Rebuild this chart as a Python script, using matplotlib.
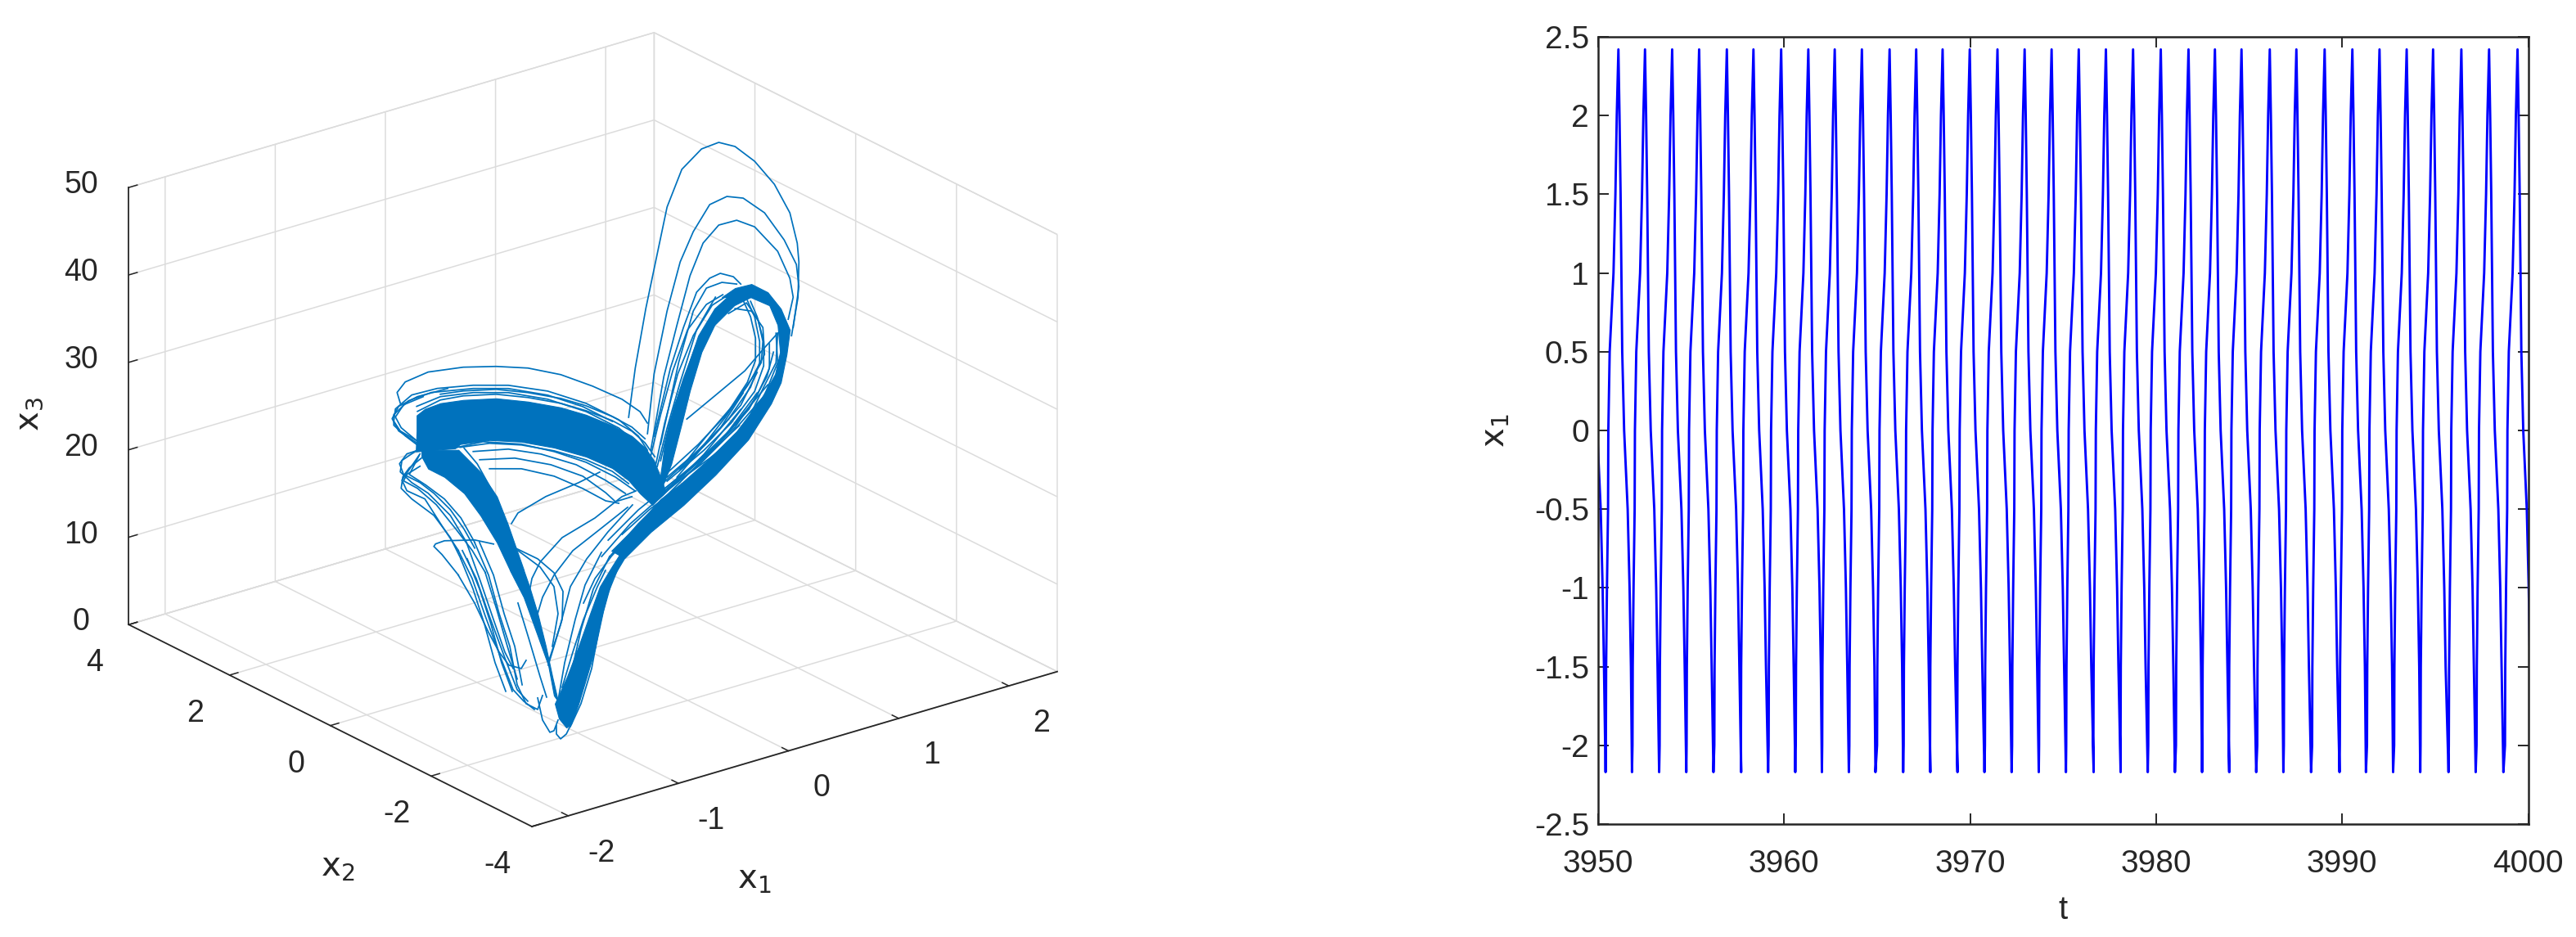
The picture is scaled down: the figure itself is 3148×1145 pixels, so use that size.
import matplotlib
matplotlib.use('Agg')
import matplotlib.pyplot as plt
from matplotlib.ticker import FormatStrFormatter
from mpl_toolkits.mplot3d import proj3d
from mpl_toolkits.mplot3d.art3d import Poly3DCollection

plt.rcParams['font.family'] = ['Liberation Sans Narrow', 'Liberation Sans', 'DejaVu Sans']
plt.rcParams['mathtext.fontset'] = 'custom'
plt.rcParams['mathtext.rm'] = 'Liberation Sans Narrow'
plt.rcParams['mathtext.it'] = 'Liberation Sans Narrow'
plt.rcParams['axes.unicode_minus'] = False

W, H = 3148, 1145
dark = '#262626'
grid_col = '#dcdcdc'
orbit_col = '#0072bd'

# x2 read as one level per group of curves
x2_mid = 0.0
x2_low = -2.2
x2_top = 1.0

# solid ribbons of the attractor, outline
arch_x1 = [-1.554, -1.546, -1.546, -1.472, -1.331, -1.123, -0.825, -0.536, -0.238, -0.008, 0.230, 0.408, 0.527, 0.609, 0.668, 0.713, 0.594, 0.482, 0.378, 0.230, -0.008, -0.298, -0.595, -0.885, -1.152, -1.197]
arch_x3 = [28.47, 30.79, 32.57, 33.03, 33.16, 32.76, 31.84, 30.39, 28.62, 26.92, 24.81, 22.94, 21.17, 19.38, 17.28, 15.52, 14.37, 16.10, 17.99, 19.94, 22.14, 24.25, 26.02, 27.29, 27.82, 27.51]
leg_up_x1 = [-1.502, -1.502, -1.442, -1.294, -1.115, -0.967, -0.818, -0.699, -0.573, -0.625, -0.721, -0.818, -0.967, -1.167]
leg_up_x3 = [28.46, 27.71, 26.09, 24.59, 22.06, 18.97, 15.33, 11.71, 11.24, 13.30, 17.13, 20.58, 23.94, 27.21]
leg_low_x1 = [-1.707, -1.581, -1.454, -1.358, -1.306, -1.269, -1.321, -1.380, -1.454, -1.529, -1.581]
leg_low_x3 = [21.81, 18.25, 13.37, 9.64, 5.98, 5.19, 8.20, 11.88, 15.90, 19.27, 21.34]
rise_x1 = [-1.261, -1.194, -1.150, -1.083, -1.009, -0.934, -0.860, -0.778, -0.667, -0.689, -0.801, -0.890, -0.986, -1.083, -1.187, -1.298]
rise_x3 = [3.19, 1.91, 2.13, 4.22, 7.03, 9.93, 13.97, 17.40, 19.33, 20.26, 18.43, 16.89, 13.88, 10.77, 7.70, 5.02]
lobe_x1 = [0.341, 0.579, 0.876, 1.166, 1.463, 1.671, 1.760, 1.812, 1.842, 1.760, 1.641, 1.493, 1.344, 1.225, 1.485, 1.656, 1.731, 1.753, 1.708, 1.582, 1.359, 1.114, 0.861, 0.668, 0.490, 0.222]
lobe_x3 = [9.23, 11.34, 13.32, 15.70, 18.62, 21.97, 24.06, 27.06, 29.76, 32.49, 34.81, 36.30, 36.39, 35.80, 34.83, 33.26, 30.74, 27.56, 25.20, 22.86, 19.95, 17.78, 15.91, 14.76, 12.89, 10.52]
climb_x1 = [0.668, 0.705, 0.787, 0.891, 1.010, 1.158, 1.337, 1.485, 1.337, 1.158, 1.040, 0.935, 0.861, 0.765, 0.638]
climb_x3 = [17.56, 20.89, 24.89, 28.25, 32.20, 34.74, 36.13, 34.83, 34.45, 32.87, 30.22, 26.21, 22.74, 18.42, 14.87]

# single laps, upper lobe
t1_x1 = [0.836, 0.896, 0.992, 1.096, 1.185, 1.319, 1.498, 1.654, 1.802, 1.980, 2.159, 2.300, 2.367, 2.382, 2.374, 2.315]
t1_x3 = [20.61, 26.01, 32.48, 38.36, 43.37, 47.18, 48.85, 49.02, 48.00, 45.65, 42.36, 38.56, 34.84, 32.63, 28.63, 24.45]
t2_x1 = [1.007, 1.067, 1.185, 1.304, 1.423, 1.572, 1.728, 1.876, 2.070, 2.248, 2.359, 2.382, 2.330]
t2_x3 = [18.10, 24.71, 31.48, 36.65, 39.67, 42.21, 42.56, 41.82, 39.42, 35.66, 32.44, 29.82, 25.34]
t3_x1 = [1.037, 1.156, 1.275, 1.393, 1.512, 1.654, 1.817, 1.980, 2.189, 2.300, 2.330, 2.285]
t3_x3 = [16.11, 24.10, 29.55, 34.73, 38.03, 39.56, 39.51, 38.15, 34.58, 31.07, 28.80, 26.44]
t4_x1 = [1.067, 1.215, 1.334, 1.453, 1.572, 1.668, 1.787, 1.854]
t4_x3 = [17.60, 24.82, 29.05, 32.63, 33.79, 33.99, 33.16, 32.07]
t5_x1 = [1.126, 1.290, 1.423, 1.542, 1.683, 1.817]
t5_x3 = [16.44, 25.19, 30.59, 32.77, 32.90, 32.21]
t6_x1 = [1.364, 1.624, 1.891, 2.055, 2.189]
t6_x3 = [18.45, 20.20, 22.01, 23.83, 25.21]
t7_x1 = [1.743, 1.906, 2.010, 2.055, 2.040, 1.921, 1.713, 1.483, 1.275]
t7_x3 = [29.12, 29.73, 27.46, 24.77, 22.39, 20.30, 17.34, 14.45, 12.13]
t8_x1 = [1.802, 1.951, 2.055, 2.070, 1.951, 1.772, 1.542, 1.304]
t8_x3 = [29.46, 28.62, 26.36, 23.22, 20.85, 18.34, 15.83, 12.96]
t9_x1 = [1.624, 1.453, 1.304, 1.185, 1.096]
t9_x3 = [31.43, 28.33, 22.88, 18.09, 14.02]
t10_x1 = [2.174, 2.189, 2.070, 1.832, 1.483, 1.156]
t10_x3 = [25.26, 21.84, 18.54, 15.96, 12.86, 10.71]
t11_x1 = [2.099, 1.743, 1.393, 1.074]
t11_x3 = [19.64, 15.64, 12.63, 10.36]
t12_x1 = [2.003, 1.668, 1.297, 0.925, 0.665]
t12_x3 = [19.07, 14.70, 11.40, 8.11, 5.33]
t13_x1 = [1.854, 1.520, 1.148, 0.851, 0.591]
t13_x3 = [17.74, 13.84, 10.54, 8.38, 5.60]
s1_x1 = [1.185, 1.468, 1.720, 1.914, 1.988, 1.988, 1.943, 1.876]
s1_x3 = [12.94, 15.16, 17.59, 20.61, 22.86, 25.39, 28.00, 30.12]
s2_x1 = [1.185, 1.498, 1.743, 1.943, 2.025, 2.025, 1.980, 1.914]
s2_x3 = [12.47, 14.67, 17.04, 19.94, 22.44, 24.88, 27.86, 29.98]
s3_x1 = [1.185, 1.520, 1.765, 1.980, 2.062, 2.062, 2.003, 1.943]
s3_x3 = [12.01, 14.31, 16.48, 19.33, 21.94, 24.75, 27.78, 29.77]
s4_x1 = [1.163, 1.542, 1.802, 2.003, 2.114, 2.114]
s4_x3 = [11.24, 13.77, 15.89, 18.79, 21.46, 24.27]
s5_x1 = [1.133, 1.572, 1.869, 2.062, 2.174, 2.189]
s5_x3 = [10.79, 13.19, 15.17, 19.50, 21.89, 25.21]
s6_x1 = [1.126, 1.371, 1.668, 1.876]
s6_x3 = [11.76, 13.65, 16.29, 19.54]
s7_x1 = [0.777, 1.022, 1.371, 1.668, 1.914, 2.114]
s7_x3 = [7.44, 9.34, 11.40, 13.76, 15.93, 18.65]
s8_x1 = [0.650, 0.925, 1.200, 1.542, 1.839]
s8_x3 = [7.25, 9.70, 11.48, 13.58, 15.93]
s9_x1 = [1.297, 1.594, 1.854, 2.003]
s9_x3 = [12.80, 15.44, 18.21, 21.41]
s10_x1 = [1.260, 1.631, 1.928, 2.092, 2.151]
s10_x3 = [11.54, 14.36, 17.47, 20.61, 23.19]
u1_x1 = [1.074, 1.163, 1.282, 1.423, 1.594, 1.743]
u1_x3 = [13.82, 18.73, 23.91, 27.78, 30.61, 31.27]
u2_x1 = [1.037, 1.126, 1.237, 1.371, 1.542, 1.691]
u2_x3 = [15.46, 19.81, 24.45, 28.63, 30.90, 31.46]
u3_x1 = [1.126, 1.208, 1.334, 1.446, 1.616, 1.795]
u3_x3 = [14.57, 18.56, 23.15, 26.48, 29.59, 30.42]

# single laps, around the arch
a1_x1 = [-1.695, -1.724, -1.650, -1.442, -1.123, -0.825, -0.536, -0.238, 0.051, 0.319, 0.482, 0.549]
a1_x3 = [34.52, 35.85, 36.78, 37.14, 36.51, 35.49, 34.23, 32.37, 29.98, 27.48, 25.46, 23.90]
a2_x1 = [-1.531, -1.695, -1.754, -1.739, -1.591, -1.360, -1.033, -0.714, -0.357, -0.008, 0.289, 0.467, 0.549]
a2_x3 = [29.51, 31.34, 32.68, 34.03, 35.07, 34.96, 34.11, 32.92, 30.93, 28.23, 25.25, 22.72, 20.81]
a3_x1 = [-1.531, -1.650, -1.754, -1.754, -1.620, -1.412, -1.033, -0.714, -0.357, -0.038, 0.230]
a3_x3 = [29.04, 30.61, 32.21, 33.43, 34.52, 34.69, 33.74, 32.55, 30.47, 27.97, 25.28]
a4_x1 = [-1.546, -1.331, -1.033, -0.714, -0.357, -0.008, 0.289, 0.467]
a4_x3 = [33.60, 33.91, 33.27, 32.08, 30.00, 27.29, 24.31, 21.78]
a5_x1 = [-1.539, -1.331, -1.123, -0.825, -0.536, -0.238, -0.008, 0.230, 0.408, 0.527, 0.616]
a5_x3 = [33.00, 33.53, 33.23, 32.31, 30.86, 29.09, 27.39, 25.37, 23.50, 21.73, 19.81]
a6_x1 = [-1.331, -1.123, -0.825, -0.536, -0.238, -0.008, 0.230, 0.408, 0.527]
a6_x3 = [34.19, 33.79, 32.87, 31.42, 29.65, 27.95, 25.84, 23.97, 22.20]
a7_x1 = [0.378, 0.230, -0.008, -0.298, -0.595, -0.885, -1.152]
a7_x3 = [17.62, 19.57, 21.77, 23.88, 25.65, 26.92, 27.45]
b1_x1 = [-1.182, -0.944, -0.595, -0.298, -0.008, 0.259, 0.438]
b1_x3 = [27.55, 27.32, 25.74, 23.79, 21.49, 18.80, 16.55]
b2_x1 = [-1.033, -0.714, -0.417, -0.097, 0.170, 0.349]
b2_x3 = [26.53, 25.62, 23.95, 21.54, 18.76, 16.60]
b3_x1 = [-0.974, -0.655, -0.328, -0.038, 0.170, 0.259, 0.408]
b3_x3 = [25.37, 24.37, 22.40, 20.01, 17.35, 15.99, 16.01]
b4_x1 = [-0.885, -0.595, -0.298, -0.038, 0.170, 0.289]
b4_x3 = [24.01, 22.93, 20.98, 18.60, 16.42, 15.70]
e1_x1 = [-1.539, -1.710, -1.769, -1.710, -1.539, -1.264]
e1_x3 = [29.35, 31.40, 33.02, 34.21, 34.69, 34.60]
e2_x1 = [-1.554, -1.687, -1.739, -1.665, -1.487]
e2_x3 = [29.78, 31.68, 33.10, 34.22, 34.49]

# single laps, left of the descending leg
c1_x1 = [-1.516, -1.680, -1.695, -1.591, -1.442, -1.241, -1.093]
c1_x3 = [28.70, 27.91, 26.66, 25.05, 23.28, 20.00, 16.36]
c2_x1 = [-1.516, -1.680, -1.635, -1.472, -1.316, -1.167]
c2_x3 = [28.05, 25.66, 24.28, 22.74, 19.07, 15.70]
c3_x1 = [-1.524, -1.613, -1.464, -1.294, -1.145, -1.019]
c3_x3 = [27.89, 26.06, 24.30, 22.07, 19.36, 16.08]
hook_x1 = [-0.848, -1.019, -1.294, -1.375, -1.390, -1.316, -1.167]
hook_x3 = [15.26, 16.36, 17.29, 17.23, 17.00, 15.79, 12.89]
e3_x1 = [-1.524, -1.635, -1.702, -1.665, -1.516, -1.390, -1.241, -1.115, -1.019]
e3_x3 = [28.54, 28.50, 27.62, 26.26, 24.77, 23.08, 20.66, 17.94, 15.43]
e4_x1 = [-1.502, -1.613, -1.672, -1.687, -1.591, -1.390, -1.241, -1.145]
e4_x3 = [27.53, 26.81, 26.01, 24.75, 23.18, 20.55, 17.47, 14.68]
e5_x1 = [-1.516, -1.635, -1.665, -1.539, -1.368, -1.189, -1.041, -0.922]
e5_x3 = [26.64, 26.15, 25.52, 24.20, 21.69, 18.22, 15.23, 12.26]
e6_x1 = [-1.115, -0.996, -0.848, -0.744, -0.669]
e6_x3 = [27.21, 24.98, 21.06, 17.49, 14.41]

# single laps, lower part
d1_x1 = [-2.101, -1.975, -1.856, -1.752, -1.677]
d1_x3 = [26.46, 21.58, 16.74, 12.61, 10.46]
d2_x1 = [-2.175, -2.049, -1.930, -1.781, -1.677, -1.581, -1.484]
d2_x3 = [25.80, 22.14, 17.40, 11.78, 8.03, 6.36, 5.05]
d3_x1 = [-2.027, -1.900, -1.804, -1.707, -1.640, -1.559, -1.454, -1.410]
d3_x3 = [26.18, 21.97, 17.21, 13.10, 8.45, 5.99, 4.94, 6.37]
d4_x1 = [-2.153, -2.041, -1.937, -1.841, -1.744]
d4_x3 = [24.78, 20.90, 16.49, 11.73, 8.09]
d5_x1 = [-1.930, -1.826, -1.729, -1.640]
d5_x3 = [22.36, 17.76, 13.18, 9.11]
d6_x1 = [-2.138, -2.012, -1.893, -1.744, -1.640, -1.544]
d6_x3 = [25.66, 22.00, 17.26, 11.64, 7.89, 6.22]
d7_x1 = [-1.982, -1.855, -1.759, -1.662, -1.595]
d7_x3 = [26.01, 21.80, 17.04, 12.93, 8.28]
d8_x1 = [-2.094, -1.982, -1.878, -1.782, -1.685]
d8_x3 = [24.56, 20.68, 16.27, 11.51, 7.87]
hook_low_x1 = [-2.175, -2.027, -1.900, -1.804, -1.715, -1.603, -1.559]
hook_low_x3 = [22.99, 19.25, 15.41, 12.81, 10.97, 10.18, 10.95]
m1_x1 = [-1.692, -1.633, -1.380, -1.083, -0.890]
m1_x3 = [27.09, 28.08, 29.02, 29.50, 30.00]
m2_x1 = [-1.655, -1.454, -1.306, -1.224, -1.232, -1.306, -1.358]
m2_x3 = [24.14, 22.17, 20.03, 17.58, 14.41, 11.60, 9.64]
m3_x1 = [-1.633, -1.432, -1.306, -1.269, -1.321]
m3_x3 = [23.78, 21.15, 18.44, 15.21, 11.66]
m4_x1 = [-1.529, -1.506, -1.432, -1.232, -0.934, -0.689, -0.563]
m4_x3 = [18.71, 20.12, 21.72, 23.77, 24.91, 26.44, 26.62]
m5_x1 = [-1.454, -1.410, -1.306, -1.135, -0.890, -0.637]
m5_x3 = [15.90, 17.61, 19.75, 21.92, 23.44, 25.03]
m6_x1 = [-1.358, -1.246, -1.157, -1.009, -0.816, -0.593]
m6_x3 = [9.92, 13.91, 17.89, 20.51, 22.88, 25.14]
m7_x1 = [-1.038, -0.934, -0.786, -0.563]
m7_x3 = [15.56, 17.98, 19.96, 22.22]
m8_x1 = [-1.157, -1.061, -0.964, -0.890, -0.823, -0.711]
m8_x3 = [1.88, 4.14, 7.80, 12.58, 15.70, 18.75]
m9_x1 = [-1.454, -1.410, -1.343, -1.306, -1.269]
m9_x3 = [6.26, 3.57, 1.91, 1.96, 3.04]
m10_x1 = [-1.284, -1.284, -1.246, -1.194, -1.157]
m10_x3 = [2.44, 1.50, 0.80, 1.16, 1.97]
m11_x1 = [-1.633, -1.529, -1.432, -1.373]
m11_x3 = [17.78, 13.09, 8.61, 6.05]
n1_x1 = [-1.209, -1.157, -1.061, -0.949, -0.801]
n1_x3 = [4.69, 7.59, 12.56, 16.83, 20.02]
n2_x1 = [-1.261, -1.209, -1.113, -1.024, -0.875]
n2_x3 = [5.81, 9.37, 13.97, 17.57, 20.76]
n3_x1 = [-1.232, -1.135, -1.038, -0.912, -0.838]
n3_x3 = [6.64, 10.31, 13.69, 16.97, 18.56]

# right panel: spike times read from the top and bottom of the plot
peak_t = [3949.64, 3951.09, 3952.52, 3953.98, 3955.43, 3956.92, 3958.35, 3959.84, 3961.30, 3962.72,
          3964.18, 3965.67, 3967.10, 3968.52, 3969.98, 3971.47, 3972.93, 3974.38, 3975.84, 3977.30,
          3978.76, 3980.25, 3981.74, 3983.16, 3984.59, 3986.11, 3987.54, 3989.06, 3990.55, 3992.01,
          3993.47, 3994.89, 3996.41, 3997.90, 3999.43]
trough_t = [3950.40, 3951.82, 3953.28, 3954.74, 3956.20, 3957.69, 3959.14, 3960.60, 3962.03, 3963.48,
            3964.91, 3966.40, 3967.86, 3969.32, 3970.77, 3972.23, 3973.69, 3975.15, 3976.64, 3978.09,
            3979.55, 3981.01, 3982.47, 3983.93, 3985.38, 3986.84, 3988.33, 3989.86, 3991.28, 3992.74,
            3994.20, 3995.72, 3997.18, 3998.67]
peak_val = 2.42
trough_val = -2.17
rise_dt = [-0.674, -0.660, -0.616, -0.557, -0.542, -0.469, -0.264, -0.161, -0.088]
rise_val = [-2.0, -1.5, -1.0, -0.5, 0.0, 0.5, 1.0, 1.5, 2.0]
fall_dt = [0.059, 0.117, 0.161, 0.205, 0.308, 0.498, 0.601, 0.674]
fall_val = [2.0, 1.5, 1.0, 0.5, 0.0, -0.5, -1.0, -1.5]

t_ticks = [3950, 3960, 3970, 3980, 3990, 4000]
x1_ticks = [-2.5, -2, -1.5, -1, -0.5, 0, 0.5, 1, 1.5, 2, 2.5]

fig = plt.figure(figsize=(W / 100, H / 100), dpi=100)

# ---- left panel, 3d attractor
ax = fig.add_axes([0, 0, H / W, 1], projection='3d', proj_type='ortho', computed_zorder=False)
ax.view_init(elev=22.6, azim=-127.5)
box = (1, 1, 0.715)

bands = [(arch_x1, x2_mid, arch_x3), (leg_up_x1, x2_mid, leg_up_x3), (leg_low_x1, x2_low, leg_low_x3),
         (rise_x1, x2_low, rise_x3), (lobe_x1, x2_mid, lobe_x3), (climb_x1, x2_mid, climb_x3)]
for b1, b2, b3 in bands:
    verts = [list(zip(b1, [b2] * len(b1), b3))]
    ax.add_collection3d(Poly3DCollection(verts, facecolor=orbit_col, edgecolor=orbit_col, linewidth=0.8))

top_laps = [(t1_x1, t1_x3), (t2_x1, t2_x3), (t3_x1, t3_x3), (t4_x1, t4_x3), (t5_x1, t5_x3), (t6_x1, t6_x3),
            (t7_x1, t7_x3), (t8_x1, t8_x3), (t9_x1, t9_x3), (t10_x1, t10_x3), (t11_x1, t11_x3), (t12_x1, t12_x3),
            (t13_x1, t13_x3), (s1_x1, s1_x3), (s2_x1, s2_x3), (s3_x1, s3_x3), (s4_x1, s4_x3), (s5_x1, s5_x3),
            (s6_x1, s6_x3), (s7_x1, s7_x3), (s8_x1, s8_x3), (s9_x1, s9_x3), (s10_x1, s10_x3), (u1_x1, u1_x3),
            (u2_x1, u2_x3), (u3_x1, u3_x3)]
mid_laps = [(a1_x1, a1_x3), (a2_x1, a2_x3), (a3_x1, a3_x3), (a4_x1, a4_x3), (a5_x1, a5_x3), (a6_x1, a6_x3),
            (a7_x1, a7_x3), (b1_x1, b1_x3), (b2_x1, b2_x3), (b3_x1, b3_x3), (b4_x1, b4_x3), (e1_x1, e1_x3),
            (e2_x1, e2_x3), (c1_x1, c1_x3), (c2_x1, c2_x3), (c3_x1, c3_x3), (hook_x1, hook_x3), (e3_x1, e3_x3),
            (e4_x1, e4_x3), (e5_x1, e5_x3), (e6_x1, e6_x3)]
low_laps = [(d1_x1, d1_x3), (d2_x1, d2_x3), (d3_x1, d3_x3), (d4_x1, d4_x3), (d5_x1, d5_x3), (d6_x1, d6_x3),
            (d7_x1, d7_x3), (d8_x1, d8_x3), (hook_low_x1, hook_low_x3), (m1_x1, m1_x3), (m2_x1, m2_x3),
            (m3_x1, m3_x3), (m4_x1, m4_x3), (m5_x1, m5_x3), (m6_x1, m6_x3), (m7_x1, m7_x3), (m8_x1, m8_x3),
            (m9_x1, m9_x3), (m10_x1, m10_x3), (m11_x1, m11_x3), (n1_x1, n1_x3), (n2_x1, n2_x3), (n3_x1, n3_x3)]
for group, level in ((top_laps, x2_top), (mid_laps, x2_mid), (low_laps, x2_low)):
    for l1, l3 in group:
        ax.plot(l1, [level] * len(l1), l3, color=orbit_col, lw=1.25)

xmin, xmax = -2.33, 2.44
ymin, ymax = -4, 4
ax.set_xlim(xmin, xmax)
ax.set_ylim(ymin, ymax)
ax.set_zlim(0, 50)
ax.set_xticks([-2, -1, 0, 1, 2])
ax.set_yticks([-4, -2, 0, 2, 4])
ax.set_zticks([0, 10, 20, 30, 40, 50])

for axis in (ax.xaxis, ax.yaxis, ax.zaxis):
    axis.set_pane_color((1, 1, 1, 1))
    axis.pane.set_edgecolor(grid_col)
    axis.line.set_color(dark)
    axis.line.set_linewidth(1.3)
    axis._axinfo['grid'].update(color=grid_col, linewidth=1.1)
    axis._axinfo['tick'].update(inward_factor=0, outward_factor=0.2, linewidth={True: 1.1, False: 1.1}, color=dark)
ax.tick_params(labelsize=27, colors=dark)
ax.tick_params(axis='x', pad=27)
ax.tick_params(axis='y', pad=20)
ax.tick_params(axis='z', pad=14)
ax.grid(True)


def to_px(x, y, z):
    px, py, _ = proj3d.proj_transform(x, y, z, ax.get_proj())
    dx, dy = ax.transData.transform((px, py))
    return dx, H - dy


# scale and place the box so its floor corners land where they are in the picture
ax.set_box_aspect(box, zoom=1)
fig.canvas.draw()
width = to_px(xmax, ymin, 0)[0] - to_px(xmin, ymin, 0)[0]
ax.set_box_aspect(box, zoom=642 / width)
fig.canvas.draw()
cx, cy = to_px(xmin, ymin, 0)
pos = ax.get_position()
ax.set_position([pos.x0 + (650 - cx) / W, pos.y0 - (1010 - cy) / H, pos.width, pos.height])

for t in ax.xaxis.get_major_ticks():
    t.label1.set_va('bottom')
for t in ax.yaxis.get_major_ticks():
    t.label1.set_va('center')
for t in ax.zaxis.get_major_ticks():
    t.label1.set_va('center')

# axis titles of the 3d box
fig.text(922 / W, 1 - 1075 / H, r'$\mathrm{x_1}$', fontsize=29, color=dark, ha='center', va='center')
fig.text(413 / W, 1 - 1060 / H, r'$\mathrm{x_2}$', fontsize=29, color=dark, ha='center', va='center')
fig.text(36 / W, 1 - 506 / H, r'$\mathrm{x_3}$', fontsize=29, color=dark, ha='center', va='center', rotation=90)

# ---- right panel, time series
t_series = []
x_series = []
for k, p in enumerate(peak_t):
    if k > 0:
        t_series.append(trough_t[k - 1])
        x_series.append(trough_val)
        t_series.extend(p + d for d in rise_dt)
        x_series.extend(rise_val)
    t_series.append(p)
    x_series.append(peak_val)
    t_series.extend(p + d for d in fall_dt)
    x_series.extend(fall_val)

ax2 = fig.add_axes([1953 / W, 1 - 1007 / H, (3089.5 - 1953) / W, (1007 - 45) / H])
ax2.plot(t_series, x_series, color='#0000ff', lw=2.1)
ax2.set_xlim(3950, 4000)
ax2.set_ylim(-2.5, 2.5)
ax2.set_xticks(t_ticks)
ax2.set_yticks(x1_ticks)
ax2.yaxis.set_major_formatter(FormatStrFormatter('%g'))
ax2.tick_params(direction='in', length=9.4, width=1.4, top=True, right=True, labelsize=28,
                colors=dark, pad=8)
ax2.tick_params(axis='x', pad=22)
for s in ax2.spines.values():
    s.set_linewidth(1.8)
    s.set_color(dark)
ax2.set_xlabel('t', fontsize=29, color=dark, labelpad=14)
ax2.set_ylabel(r'$\mathrm{x_1}$', fontsize=29, color=dark, labelpad=20)

fig.savefig('out.png', dpi=100)
